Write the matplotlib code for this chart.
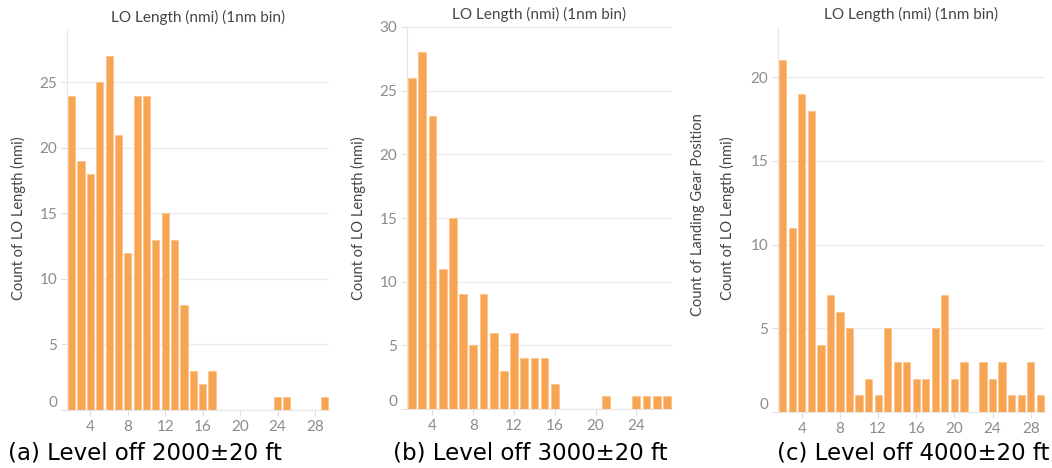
import matplotlib.pyplot as plt

# LO length histograms (1 nmi bins), one panel per level-off altitude
a_x = [2, 3, 4, 5, 6, 7, 8, 9, 10, 11, 12, 13, 14, 15, 16, 17, 24, 25, 29]
a_counts = [24, 19, 18, 25, 27, 21, 12, 24, 24, 13, 15, 13, 8, 3, 2, 3, 1, 1, 1]

b_x = [2, 3, 4, 5, 6, 7, 8, 9, 10, 11, 12, 13, 14, 15, 16, 21, 24, 25, 26, 27]
b_counts = [26, 28, 23, 11, 15, 9, 5, 9, 6, 3, 6, 4, 4, 4, 2, 1, 1, 1, 1, 1]

c_x = [2, 3, 4, 5, 6, 7, 8, 9, 10, 11, 12, 13, 14, 15, 16, 17, 18, 19, 20, 21,
       23, 24, 25, 26, 27, 28, 29]
c_counts = [21, 11, 19, 18, 4, 7, 6, 5, 1, 2, 1, 5, 3, 3, 2, 2, 5, 7, 2, 3,
            3, 2, 3, 1, 1, 3, 1]

a_xticks = [4, 8, 12, 16, 20, 24, 28]
b_xticks = [4, 8, 12, 16, 20, 24]
c_xticks = [4, 8, 12, 16, 20, 24, 28]
a_yticks = [0, 5, 10, 15, 20, 25]
b_yticks = [0, 5, 10, 15, 20, 25, 30]
c_yticks = [0, 5, 10, 15, 20]

title = "LO Length (nmi) (1nm bin)"
ylab = "Count of LO Length (nmi)"
ylab2 = "Count of Landing Gear Position"
captions = ["(a) Level off 2000\u00b120 ft", "(b) Level off 3000\u00b120 ft",
            "(c) Level off 4000\u00b120 ft"]

BAR = "#f8a553"
GRID = "#ededed"
TICK = "#8c8c8c"
TXT = "#454545"

plt.rcParams['font.family'] = ['Lato', 'DejaVu Sans']

W, H = 1052, 468
fig = plt.figure(figsize=(W / 100, H / 100), dpi=100)


def px_axes(left, top, right, bottom):
    return fig.add_axes([left / W, 1 - bottom / H, (right - left) / W, (bottom - top) / H])


def draw_panel(ax, xs, counts, xlim, ylim, xticks, yticks):
    ax.bar(xs, counts, width=0.76, color=BAR, edgecolor="#fbc48e", linewidth=0.6, zorder=3)
    ax.set_xlim(*xlim)
    ax.set_ylim(*ylim)
    ax.set_xticks(xticks)
    ax.set_yticks(yticks)
    ax.grid(True, axis="y", color=GRID, linewidth=1, zorder=0)
    for s in ["top", "right"]:
        ax.spines[s].set_visible(False)
    ax.spines["left"].set_color("#e6e6e6")
    ax.spines["bottom"].set_color("#e6e6e6")
    ax.tick_params(axis="both", colors="#dddddd", labelcolor=TICK, labelsize=11, length=4, pad=3)
    # zero label sits above the baseline
    ax.get_yticklabels()[0].set_va("bottom")
    ax.set_title(title, fontsize=11, color=TXT, pad=6)


ax1 = px_axes(67, 30, 329, 410)
draw_panel(ax1, a_x, a_counts, (1.5, 29.5), (0, 29), a_xticks, a_yticks)
fig.text(18 / W, 1 - 218 / H, ylab, rotation=90, ha="center", va="center", fontsize=10.5, color=TXT)

ax2 = px_axes(407, 27, 672, 409)
draw_panel(ax2, b_x, b_counts, (1.5, 27.5), (0, 30), b_xticks, b_yticks)
fig.text(358 / W, 1 - 218 / H, ylab, rotation=90, ha="center", va="center", fontsize=10.5, color=TXT)

ax3 = px_axes(778, 27, 1045, 412)
draw_panel(ax3, c_x, c_counts, (1.5, 29.5), (0, 23), c_xticks, c_yticks)
fig.text(698 / W, 1 - 215 / H, ylab2, rotation=90, ha="center", va="center", fontsize=10.5, color=TXT)
fig.text(727 / W, 1 - 218 / H, ylab, rotation=90, ha="center", va="center", fontsize=10.5, color=TXT)

for xpos, cap in zip([8, 393, 777], captions):
    fig.text(xpos / W, 1 - 453 / H, cap, ha="left", va="center", fontsize=16.5,
             color="black", family="DejaVu Sans")

fig.savefig("out.png", dpi=100)
